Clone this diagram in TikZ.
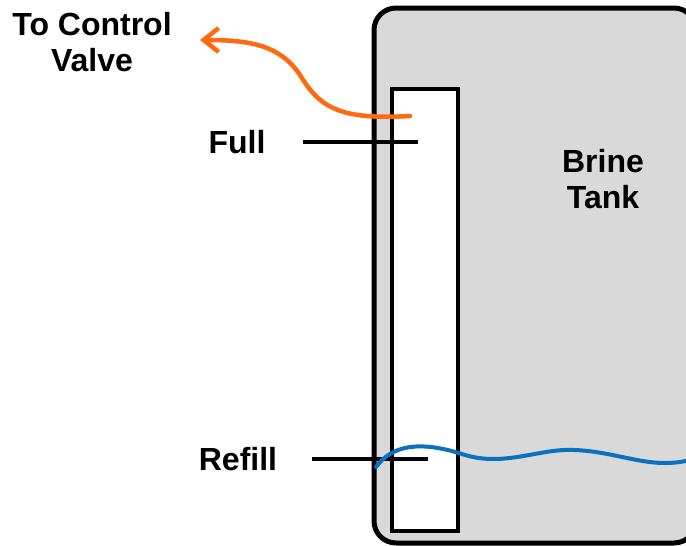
\documentclass[tikz,border=0pt]{standalone}
\usepackage{fontspec}
\setmainfont{Liberation Sans}
\usetikzlibrary{arrows.meta}
\definecolor{tankgray}{HTML}{D9D9D9}
\definecolor{pipeorange}{HTML}{FF6A10}
\definecolor{waterblue}{HTML}{0A70C0}
\tikzset{
  lbl/.style={font=\fontsize{32}{36}\selectfont\bfseries, inner sep=0pt, align=center},
  tankbox/.style={draw=black, line width=5pt, fill=tankgray, rounded corners=22pt, inner sep=0pt, outer sep=0pt},
  tubebox/.style={draw=black, line width=4.5pt, fill=white, inner sep=0pt},
  marker/.style={draw=black, line width=4pt},
  pipe/.style={draw=pipeorange, line width=4.5pt, line cap=round, -{Straight Barb[length=15pt,width=24pt,line width=4.5pt]}},
  water/.style={draw=waterblue, line width=4pt, line cap=round}
}
\begin{document}
\begin{tikzpicture}[x=1pt,y=-1pt]
\useasboundingbox (0,0) rectangle (686,546);
\clip (0,0) rectangle (686,546);
\node[tankbox, minimum width=322pt, minimum height=535pt] (tank) at (535,275.5) {};
\node[tubebox, minimum width=66pt, minimum height=442pt] (tube) at (425,310) {};
\node[lbl] (valve) at (92,42) {To Control\\Valve};
\node[lbl] (brine) at (603,179) {Brine\\Tank};
\node[lbl] (full) at (237,142) {Full};
\node[lbl] (refill) at (238,459) {Refill};
\coordinate (fullA) at (303,142);
\coordinate (fullB) at (418,142);
\coordinate (refA) at (312,459);
\coordinate (refB) at (428,459);
\draw[marker] (fullA) -- (fullB);
\draw[marker] (refA) -- (refB);
\coordinate (pipeIn) at (410,116);
\coordinate (pipeOut) at (200,40);
\draw[pipe] (pipeIn) .. controls (340,120) and (320,108) .. (300,75) .. controls (280,45) and (250,40) .. (pipeOut);
\coordinate (wStart) at (376,467);
\coordinate (wEnd) at (690,460);
\draw[water] (wStart) .. controls (392,445) and (420,440) .. (465,455) .. controls (505,467) and (540,448) .. (575,450) .. controls (620,452) and (650,470) .. (wEnd);
\end{tikzpicture}
\end{document}
